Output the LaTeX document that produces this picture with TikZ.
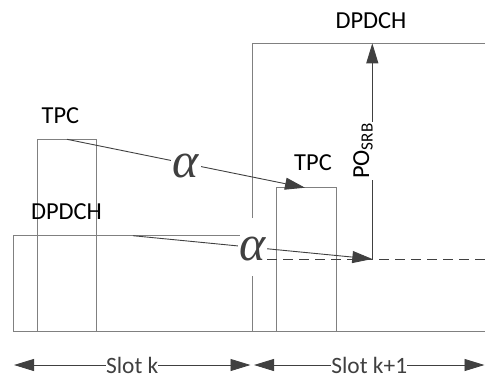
\documentclass[tikz,border=0pt]{standalone}
\usepackage{fontspec}
\setmainfont{Carlito}
\newfontfamily\alphafont{Liberation Serif}
\usetikzlibrary{arrows.meta, calc}

\begin{document}
\begin{tikzpicture}[
    x=1bp, y=1bp,
    >={Triangle[length=20bp, width=12bp]}, % big filled heads
    boxline/.style={black!50, line width=1bp}, % Style for slot boxes
    arrowstyle/.style={->, black!75, line width=0.9bp}, % Style for arrows
    slotarrow/.style={<->, black!75, line width=0.9bp},
    lbl/.style={font=\fontsize{24.5}{29}\selectfont, inner sep=1bp},
    alphalbl/.style={font=\alphafont\itshape\fontsize{50}{54}\selectfont, fill=white, inner sep=1.5bp}
]
    \useasboundingbox (0,0) rectangle (485,-378);

    % Baseline
    \coordinate (O) at (13,-331);
    \coordinate (E) at (485,-331);

    % Slot k: DPDCH and TPC
    \coordinate (dL_top) at (13,-235.7);
    \coordinate (dL_end) at (240,-235.7);
    \coordinate (tL_bl) at (37,-331);
    \coordinate (tL_tr) at (96.7,-139.3);

    % Slot k+1: DPDCH and TPC
    \coordinate (dR_bot) at (252.3,-331);
    \coordinate (dR_gapA) at (252.3,-276);
    \coordinate (dR_gapB) at (252.3,-218);
    \coordinate (dR_top) at (252.3,-43.3);
    \coordinate (dR_end) at (485,-43.3);
    \coordinate (tR_bl) at (276.3,-331);
    \coordinate (tR_tr) at (336,-187.7);

%    ######## arrows
    \coordinate (a1_from) at (67,-139.3);
    \coordinate (a1_to) at (305,-187.7);
    \coordinate (a2_from) at (133,-235.7);
    \coordinate (a2_to) at (372.3,-259);
    \coordinate (po_top) at (372.3,-43.3);
    \coordinate (dash_from) at (267,-259);
    \coordinate (dash_to) at (485,-259);

%    ######## slot arrows
    \coordinate (sk_l) at (14,-365);
    \coordinate (sk_r) at (250.5,-365);
    \coordinate (sk1_l) at (254,-365);
    \coordinate (sk1_r) at (484.5,-365);

    % Draw slot boxes
    \draw[boxline] (O) -- (E);
    \draw[boxline] (O) -- (dL_top) -- (dL_end);
    \draw[boxline] (tL_bl) |- (tL_tr) -- (tL_tr |- O);
    \draw[boxline] (dR_bot) -- (dR_gapA);
    \draw[boxline] (dR_gapB) -- (dR_top) -- (dR_end);
    \draw[boxline] (tR_bl) |- (tR_tr) -- (tR_tr |- O);

    % Dashed reference level
    \draw[black!75, line width=0.9bp, dash pattern=on 10bp off 6bp] (dash_from) -- (dash_to);

    % --- Arrows ---
    \draw[arrowstyle] (a1_from) -- node[alphalbl, pos=0.5, yshift=-2bp] (alpha1) {α} (a1_to);
    \draw[arrowstyle] (a2_from) -- node[alphalbl, pos=0.5, yshift=-2bp] (alpha2) {α} (a2_to);
    \draw[arrowstyle] (a2_to) -- (po_top);
    \node[lbl, rotate=90, fill=white] (po) at (363,-151) {PO\textsubscript{SRB}};

    % Labels
    \node[lbl] (tpcL) at (60.5,-115.7) {TPC};
    \node[lbl] (dpdchL) at (66.5,-212) {DPDCH};
    \node[lbl] (tpcR) at (313,-163) {TPC};
    \node[lbl] (dpdchR) at (371,-20.7) {DPDCH};

    % Slot arrows
    \draw[slotarrow] (sk_l) -- node[lbl, fill=white, inner sep=0pt, font=\fontsize{23.5}{28}\selectfont] (slotk) {Slot k} (sk_r);
    \draw[slotarrow] (sk1_l) -- node[lbl, fill=white, inner sep=0pt, font=\fontsize{23.5}{28}\selectfont] (slotk1) {Slot k+1} (sk1_r);

\end{tikzpicture}
\end{document}
